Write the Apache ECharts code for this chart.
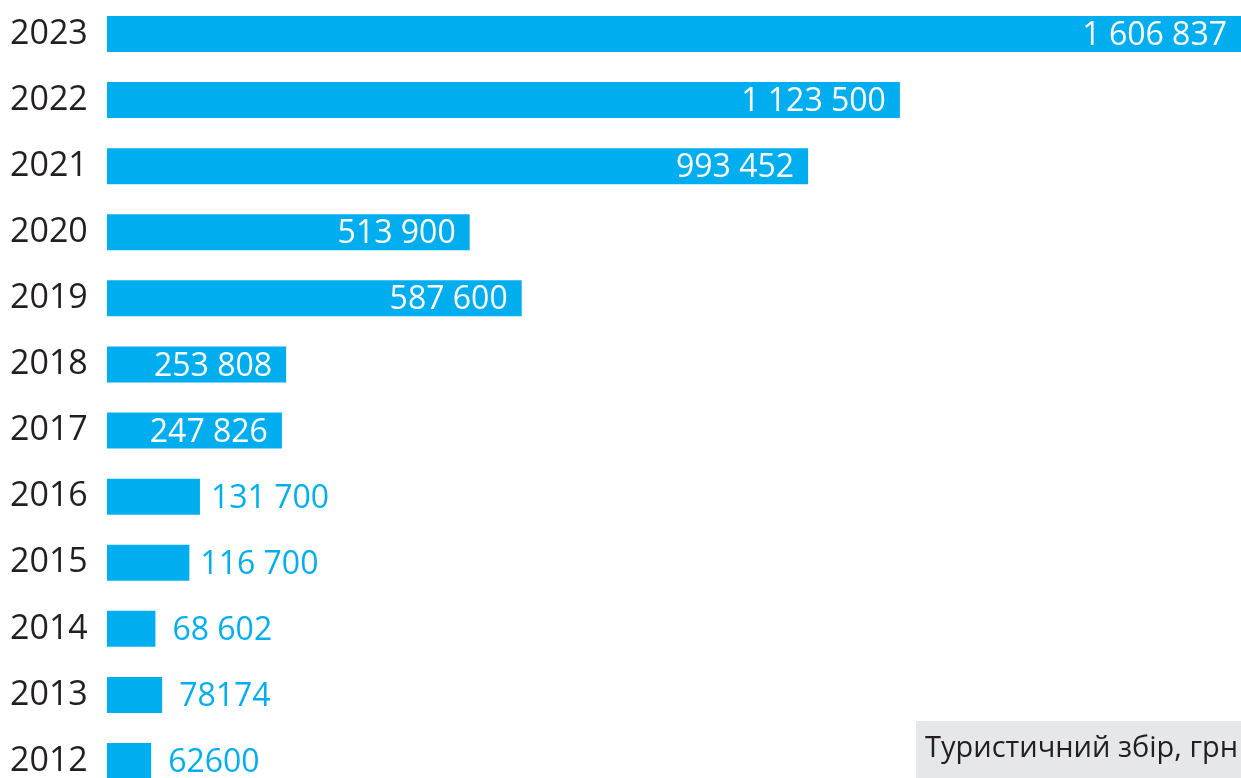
<!DOCTYPE html>
<html><head><meta charset="utf-8">
<script src="https://cdn.jsdelivr.net/npm/echarts@6/dist/echarts.min.js"></script>
<style>html,body{margin:0;padding:0;background:#fff}#c{width:1241px;height:778px}</style>
</head><body><div id="c"></div>
<script>
const years = ['2012','2013','2014','2015','2016','2017','2018','2019','2020','2021','2022','2023'];
const values = [62600,78174,68602,116700,131700,247826,253808,587600,513900,993452,1123500,1606837];
const valueLabels = ['62600','78174','68 602','116 700','131 700','247 826','253 808','587 600','513 900','993 452','1 123 500','1 606 837'];
const seriesName = 'Туристичний збір, грн';

const BLUE = '#00aeef';
const FONT = "'Open Sans', sans-serif";
const data = values.map((v, i) => {
  const inside = v > 200000;
  return {
    value: v,
    label: inside
      ? {position: 'insideRight', distance: 14, color: '#fff'}
      : {position: 'right', distance: 11 + (i < 3 ? 6 : 0), color: BLUE}
  };
});
const chart = echarts.init(document.getElementById('c'));
chart.setOption({
  animation: false,
  grid: {left: 107, right: 0, top: 34, height: 727, containLabel: false},
  xAxis: {type: 'value', min: 0, max: 1606837, show: false},
  yAxis: {
    type: 'category', data: years, boundaryGap: false,
    axisLine: {show: false}, axisTick: {show: false}, splitLine: {show: false},
    axisLabel: {align: 'left', margin: 97, fontSize: 34, color: '#231f20', fontFamily: FONT, verticalAlign: 'middle'}
  },
  series: [{
    name: seriesName, type: 'bar', data: data, barWidth: 36,
    itemStyle: {color: BLUE},
    label: {show: true, fontSize: 32, fontFamily: FONT, offset: [0, 2], formatter: p => valueLabels[p.dataIndex]}
  }],
  graphic: [{
    type: 'group', left: 916, top: 721,
    children: [
      {type: 'rect', shape: {x: 0, y: 0, width: 325, height: 60}, style: {fill: '#e6e7e8'}},
      {type: 'text', x: 9, y: 28, style: {text: seriesName, fontSize: 29, fontFamily: FONT, fill: '#231f20', textVerticalAlign: 'middle'}}
    ]
  }]
});
</script></body></html>
